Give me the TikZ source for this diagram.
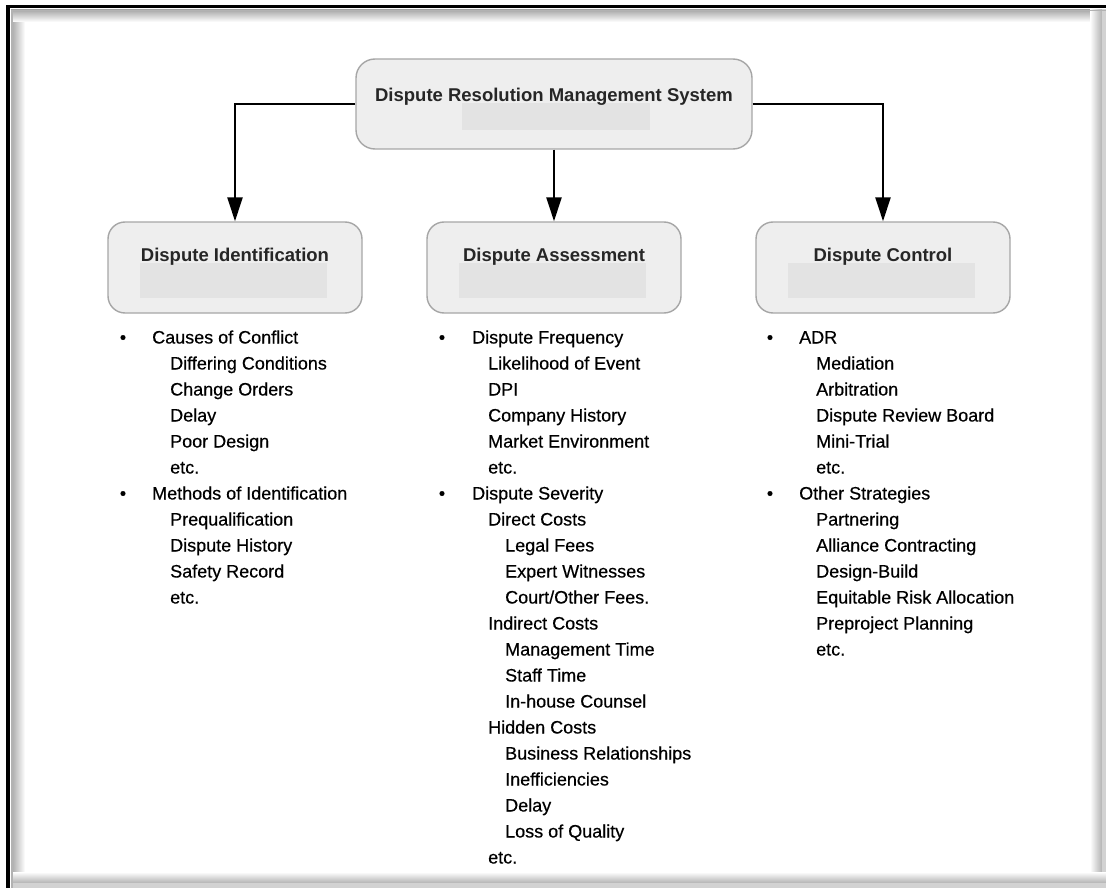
\documentclass[tikz,border=0pt]{standalone}
\usepackage{fontspec}
\setmainfont{Liberation Sans}
\newfontfamily\itemfont{Liberation Sans}[FakeBold=0.45]
\usetikzlibrary{arrows.meta,calc}
\tikzset{
 mainbox/.style={draw=gray!70, line width=1.4pt, fill=gray!13, rounded corners=19pt, minimum width=396pt, minimum height=90pt, inner sep=0pt},
 subbox/.style={draw=gray!70, line width=1.4pt, fill=gray!13, rounded corners=17pt, minimum width=254pt, minimum height=91pt, inner sep=0pt},
 patch/.style={fill=gray!22, draw=none},
 boxtitle/.style={font=\bfseries\fontsize{18.5}{20}\selectfont, text=black!85, inner sep=0pt, anchor=base},
 itemtext/.style={font=\itemfont\fontsize{18}{20}\selectfont, anchor=base west, inner sep=0pt, text=black},
 bullettext/.style={font=\itemfont\fontsize{18}{20}\selectfont, anchor=base, inner sep=0pt},
 arr/.style={line width=2.4pt, -{Triangle[length=24pt,width=15pt]}},
}
\newcommand\itm[4]{\node[itemtext] (#1) at (#2,{343.5+26*#3}) {#4};}
\newcommand\bul[3]{\node[bullettext] (#1) at (#2,{343.5+26*#3}) {•};}
\begin{document}
\begin{tikzpicture}[x=1pt,y=-1pt]
\useasboundingbox (0,0) rectangle (1106,888);
\fill[white] (0,0) rectangle (1106,888);
% frame
\shade[left color=gray!70, right color=white] (11,9.5) rectangle (25,888);
\shade[top color=gray!70, bottom color=white] (11,9.5) rectangle (1106,22);
\shade[left color=white, right color=gray!60] (1090,9.5) rectangle (1102,888);
\fill[gray!35] (1102,9.5) rectangle (1106,888);
\shade[top color=white, bottom color=gray!60] (11,872) rectangle (1106,883);
\fill[gray!35] (11,883) rectangle (1106,888);
\draw[gray!60, line width=1.5pt] (12,888) -- (12,10.5) -- (1106,10.5);
\draw[black, line width=3.6pt] (8,890) -- (8,6.5) -- (1110,6.5);

% boxes
\node[mainbox] (top) at (554,104) {};
\fill[patch] ($(top)+(-92,-1)$) rectangle ($(top)+(96,26)$);
\node[boxtitle] (toptitle) at (554,101.6) {Dispute Resolution Management System};

\node[subbox] (c1) at (235,267.5) {};
\node[subbox] (c2) at (554,267.5) {};
\node[subbox] (c3) at (883,267.5) {};
\foreach \c in {c1,c2,c3}{
  \fill[patch] ($(\c)+(-95,-4.5)$) rectangle ($(\c)+(92,30.5)$);
}
\node[boxtitle] (t1) at ($(c1)+(0,-5.9)$) {Dispute Identification};
\node[boxtitle] (t2) at ($(c2)+(0,-5.9)$) {Dispute Assessment};
\node[boxtitle] (t3) at ($(c3)+(0,-5.9)$) {Dispute Control};

% connectors
\draw[arr] (top.west) -| (c1.north);
\draw[arr] (top.south) -- (c2.north);
\draw[arr] (top.east) -| (c3.north);

% column 1
\bul{b11}{123}{0}
\itm{a1}{152}{0}{Causes of Conflict}
\itm{a2}{170}{1}{Differing Conditions}
\itm{a3}{170}{2}{Change Orders}
\itm{a4}{170}{3}{Delay}
\itm{a5}{170}{4}{Poor Design}
\itm{a6}{170}{5}{etc.}
\bul{b12}{123}{6}
\itm{a7}{152}{6}{Methods of Identification}
\itm{a8}{170}{7}{Prequalification}
\itm{a9}{170}{8}{Dispute History}
\itm{a10}{170}{9}{Safety Record}
\itm{a11}{170}{10}{etc.}

% column 2
\bul{b21}{442}{0}
\itm{m1}{472}{0}{Dispute Frequency}
\itm{m2}{488}{1}{Likelihood of Event}
\itm{m3}{488}{2}{DPI}
\itm{m4}{488}{3}{Company History}
\itm{m5}{488}{4}{Market Environment}
\itm{m6}{488}{5}{etc.}
\bul{b22}{442}{6}
\itm{m7}{472}{6}{Dispute Severity}
\itm{m8}{488}{7}{Direct Costs}
\itm{m9}{505}{8}{Legal Fees}
\itm{m10}{505}{9}{Expert Witnesses}
\itm{m11}{505}{10}{Court/Other Fees.}
\itm{m12}{488}{11}{Indirect Costs}
\itm{m13}{505}{12}{Management Time}
\itm{m14}{505}{13}{Staff Time}
\itm{m15}{505}{14}{In-house Counsel}
\itm{m16}{488}{15}{Hidden Costs}
\itm{m17}{505}{16}{Business Relationships}
\itm{m18}{505}{17}{Inefficiencies}
\itm{m19}{505}{18}{Delay}
\itm{m20}{505}{19}{Loss of Quality}
\itm{m21}{488}{20}{etc.}

% column 3
\bul{b31}{770}{0}
\itm{r1}{799}{0}{ADR}
\itm{r2}{816}{1}{Mediation}
\itm{r3}{816}{2}{Arbitration}
\itm{r4}{816}{3}{Dispute Review Board}
\itm{r5}{816}{4}{Mini-Trial}
\itm{r6}{816}{5}{etc.}
\bul{b32}{770}{6}
\itm{r7}{799}{6}{Other Strategies}
\itm{r8}{816}{7}{Partnering}
\itm{r9}{816}{8}{Alliance Contracting}
\itm{r10}{816}{9}{Design-Build}
\itm{r11}{816}{10}{Equitable Risk Allocation}
\itm{r12}{816}{11}{Preproject Planning}
\itm{r13}{816}{12}{etc.}
\end{tikzpicture}
\end{document}
